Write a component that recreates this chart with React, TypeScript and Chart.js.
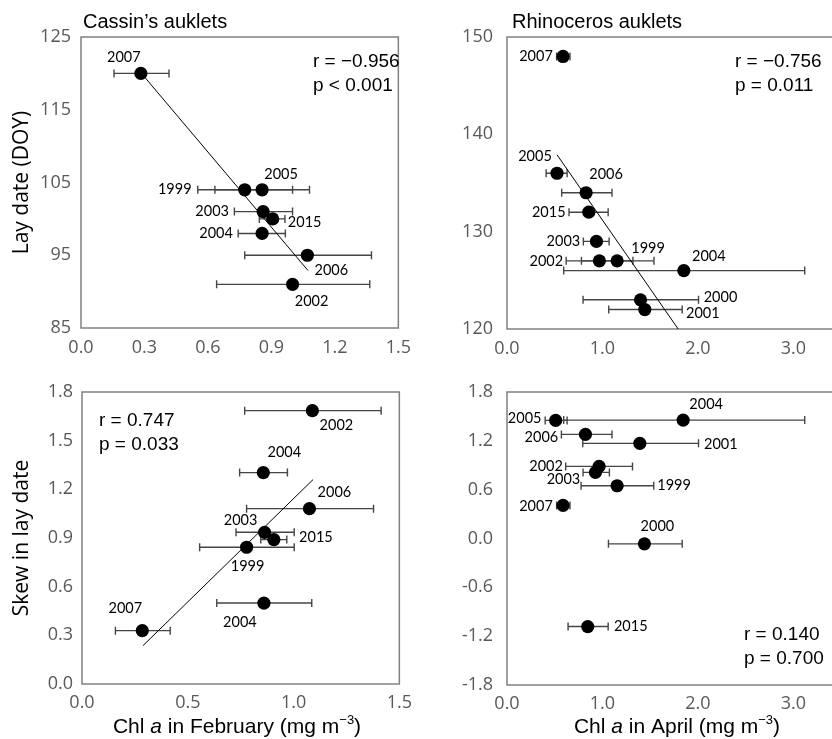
import React, { useEffect, useRef } from 'react';
import { Chart, registerables } from 'chart.js';
Chart.register(...registerables);

// ---------- Panel A: Cassin's auklets, lay date vs Chl a in February ----------
const cassinLayYears = ['2007', '1999', '2005', '2003', '2015', '2004', '2006', '2002'];
const cassinLayChl = [0.283, 0.774, 0.856, 0.861, 0.906, 0.856, 1.07, 1.0];
const cassinLayChlLow = [0.156, 0.552, 0.633, 0.725, 0.843, 0.743, 0.774, 0.641];
const cassinLayChlHigh = [0.416, 1.0, 1.08, 1.0, 0.964, 0.966, 1.373, 1.365];
const cassinLayDate = [120, 104, 104, 101, 100, 98, 95, 91];
const cassinLayTrendX = [0.283, 1.073];
const cassinLayTrendY = [120.1, 92.9];
const cassinLayStats = ['r = \u22120.956', 'p < 0.001'];

// ---------- Panel B: Rhinoceros auklets, lay date vs Chl a in April ----------
const rhinoLayYears = ['2007', '2005', '2006', '2015', '2003', '2002', '1999', '2004', '2000', '2001'];
const rhinoLayChl = [0.587, 0.524, 0.829, 0.857, 0.937, 0.968, 1.154, 1.853, 1.399, 1.444];
const rhinoLayChlLow = [0.52, 0.41, 0.573, 0.65, 0.8, 0.62, 0.78, 0.594, 0.797, 1.066];
const rhinoLayChlHigh = [0.66, 0.63, 1.1, 1.06, 1.07, 1.32, 1.54, 3.12, 2.007, 1.836];
const rhinoLayDate = [148, 136, 134, 132, 129, 127, 127, 126, 123, 122];
const rhinoLayTrendX = [0.524, 1.794];
const rhinoLayTrendY = [137.9, 120];
const rhinoLayStats = ['r = \u22120.756', 'p = 0.011'];

// ---------- Panel C: Cassin's auklets, skew vs Chl a in February ----------
const cassinSkewYears = ['2002', '2004', '2006', '2003', '2015', '1999', '2004', '2007'];
const cassinSkewChl = [1.089, 0.857, 1.075, 0.863, 0.907, 0.778, 0.86, 0.285];
const cassinSkewChlLow = [0.769, 0.745, 0.778, 0.728, 0.845, 0.556, 0.637, 0.158];
const cassinSkewChlHigh = [1.414, 0.971, 1.378, 1.003, 0.968, 1.003, 1.086, 0.417];
const cassinSkew = [1.685, 1.303, 1.081, 0.935, 0.89, 0.843, 0.499, 0.329];
const cassinSkewTrendX = [0.288, 1.092];
const cassinSkewTrendY = [0.236, 1.26];
const cassinSkewStats = ['r = 0.747', 'p = 0.033'];

// ---------- Panel D: Rhinoceros auklets, skew vs Chl a in April ----------
const rhinoSkewYears = ['2005', '2004', '2006', '2001', '2002', '2003', '1999', '2007', '2000', '2015'];
const rhinoSkewChl = [0.51, 1.846, 0.822, 1.392, 0.965, 0.927, 1.154, 0.587, 1.44, 0.846];
const rhinoSkewChlLow = [0.4, 0.594, 0.57, 0.794, 0.615, 0.797, 0.776, 0.52, 1.063, 0.64];
const rhinoSkewChlHigh = [0.63, 3.12, 1.1, 2.007, 1.315, 1.073, 1.538, 0.66, 1.836, 1.06];
const rhinoSkew = [1.451, 1.455, 1.279, 1.169, 0.886, 0.812, 0.648, 0.406, -0.066, -1.082];
const rhinoSkewStats = ['r = 0.140', 'p = 0.700'];

// ---------- Tick / axis settings ----------
const febTicksTop = { min: 0, max: 1.5, step: 0.3 };
const febTicksBottom = { min: 0, max: 1.5, step: 0.5 };
const aprTicks = { min: 0, max: 3.5, step: 1 };
const cassinLayTicks = { min: 85, max: 125, step: 10 };
const rhinoLayTicks = { min: 120, max: 150, step: 10 };
const cassinSkewTicks = { min: 0, max: 1.8, step: 0.3 };
const rhinoSkewTicks = { min: -1.8, max: 1.8, step: 0.6 };

// ---------- Label placement (pixel offsets of label centre from point) ----------
const cassinLayLabelOffsets = [[-17, -16], [-70, 0], [19, -15], [-51, 0], [32, 3], [-46, 0], [24, 15], [19, 17]];
const rhinoLayLabelOffsets = [[-27, 0], [-22, -17], [20, -18], [-40, 0], [-33, 0], [-53, 0], [31, -13], [25, -14], [80, -2], [58, 4]];
const cassinSkewLabelOffsets = [[24, 15], [21, -20], [25, -16], [-24, -12], [42, -2], [1, 19], [-24, 19], [-17, -22]];
const rhinoSkewLabelOffsets = [[-31, -2], [23, -16], [-44, 3], [81, 1], [-53, 0], [-32, 7], [57, 0], [-27, 1], [13, -18], [43, 0]];

const TICK_FONT = { family: "'Open Sans', sans-serif", size: 18 };
const TICK_COLOR = '#595959';

type Piece = { t: string; font: string; dy?: number };

interface PanelDef {
  left: number; top: number; width: number; height: number;
  padding: { left: number; top: number; right: number; bottom: number };
  yAxisW: number; xAxisH: number;
  yTickPad: number; xTickPad: number;
  xTicks: { min: number; max: number; step: number };
  yTicks: { min: number; max: number; step: number };
  yInt: boolean;
  xs: number[]; ys: number[]; lo: number[]; hi: number[];
  years: string[]; offsets: number[][];
  trendX?: number[]; trendY?: number[];
  stats: string[]; statsX: number; statsY: number;
  title?: string; titleX?: number; titleY?: number;
  yTitle?: string;
  xTitle?: Piece[]; xTitleX?: number; xTitleY?: number;
}

function xTitlePieces(month: string): Piece[] {
  const n = "21px 'Liberation Sans', Arial, sans-serif";
  return [
    { t: 'Chl ', font: n },
    { t: 'a', font: "italic 21px 'Liberation Sans', Arial, sans-serif" },
    { t: ' in ' + month + ' (mg m', font: n },
    { t: '\u22123', font: "13px 'Liberation Sans', Arial, sans-serif", dy: -7 },
    { t: ')', font: n },
  ];
}

const decorPlugin = {
  id: 'decor',
  beforeDatasetsDraw(chart: any) {
    const p: PanelDef = chart.options.plugins.decor.def;
    const ctx = chart.ctx;
    const xs = chart.scales.x;
    const ys = chart.scales.y;
    const a = chart.chartArea;
    ctx.save();
    // frame
    ctx.strokeStyle = '#808080';
    ctx.lineWidth = 1.5;
    ctx.strokeRect(a.left, a.top, a.right - a.left, a.bottom - a.top);
    // error bars
    ctx.strokeStyle = '#454545';
    ctx.lineWidth = 1.4;
    for (let i = 0; i < p.xs.length; i++) {
      const x1 = xs.getPixelForValue(p.lo[i]);
      const x2 = xs.getPixelForValue(p.hi[i]);
      const y = ys.getPixelForValue(p.ys[i]);
      ctx.beginPath();
      ctx.moveTo(x1, y); ctx.lineTo(x2, y);
      ctx.moveTo(x1, y - 4); ctx.lineTo(x1, y + 4);
      ctx.moveTo(x2, y - 4); ctx.lineTo(x2, y + 4);
      ctx.stroke();
    }
    ctx.restore();
  },
  afterDatasetsDraw(chart: any) {
    const p: PanelDef = chart.options.plugins.decor.def;
    const ctx = chart.ctx;
    const xs = chart.scales.x;
    const ys = chart.scales.y;
    ctx.save();
    // year labels
    ctx.fillStyle = '#000';
    ctx.font = "14.5px Lato, sans-serif";
    ctx.textAlign = 'center';
    ctx.textBaseline = 'middle';
    for (let i = 0; i < p.xs.length; i++) {
      const x = xs.getPixelForValue(p.xs[i]);
      const y = ys.getPixelForValue(p.ys[i]);
      ctx.fillText(p.years[i], x + p.offsets[i][0], y + p.offsets[i][1]);
    }
    // stats
    ctx.font = "19px 'Liberation Sans', Arial, sans-serif";
    ctx.textAlign = 'left';
    p.stats.forEach((s, k) => ctx.fillText(s, p.statsX, p.statsY + k * 24));
    // title
    if (p.title) {
      ctx.font = "20px 'Liberation Sans', Arial, sans-serif";
      ctx.fillText(p.title, p.titleX!, p.titleY!);
    }
    // x title with italic and superscript
    if (p.xTitle) {
      let total = 0;
      for (const pc of p.xTitle) { ctx.font = pc.font; total += ctx.measureText(pc.t).width; }
      let cx = p.xTitleX! - total / 2;
      ctx.textAlign = 'left';
      for (const pc of p.xTitle) {
        ctx.font = pc.font;
        ctx.fillText(pc.t, cx, p.xTitleY! + (pc.dy || 0));
        cx += ctx.measureText(pc.t).width;
      }
    }
    ctx.restore();
  },
};

function fmt(v: number, asInt: boolean) {
  const n = Math.abs(v) < 1e-9 ? 0 : v;
  return asInt ? String(Math.round(n)) : n.toFixed(1);
}

function buildConfig(p: PanelDef): any {
  const points = p.xs.map((x, i) => ({ x, y: p.ys[i] }));
  const datasets: any[] = [
    {
      data: points,
      pointRadius: 6.6,
      pointHoverRadius: 6.6,
      backgroundColor: '#000',
      borderColor: '#000',
      borderWidth: 0,
      order: 1,
    },
  ];
  if (p.trendX && p.trendY) {
    datasets.push({
      data: p.trendX.map((x, i) => ({ x, y: p.trendY![i] })),
      showLine: true,
      pointRadius: 0,
      borderColor: '#000',
      borderWidth: 1,
      order: 2,
    });
  }
  return {
    type: 'scatter',
    data: { datasets },
    options: {
      responsive: false,
      maintainAspectRatio: false,
      animation: false,
      devicePixelRatio: 1,
      events: [],
      layout: { padding: p.padding },
      plugins: {
        legend: { display: false },
        tooltip: { enabled: false },
        title: { display: false },
        decor: { def: p },
      },
      scales: {
        x: {
          type: 'linear',
          min: p.xTicks.min,
          max: p.xTicks.max,
          grid: { display: false, drawTicks: false },
          border: { display: false },
          ticks: {
            stepSize: p.xTicks.step,
            includeBounds: false,
            font: TICK_FONT,
            color: TICK_COLOR,
            padding: p.xTickPad,
            maxRotation: 0,
            autoSkip: false,
            callback: (v: number) => fmt(v, false),
          },
          afterFit: (s: any) => { s.height = p.xAxisH; },
        },
        y: {
          type: 'linear',
          min: p.yTicks.min,
          max: p.yTicks.max,
          grid: { display: false, drawTicks: false },
          border: { display: false },
          title: p.yTitle
            ? {
                display: true,
                text: p.yTitle,
                color: '#000',
                font: { family: "'Open Sans', sans-serif", size: 21 },
                padding: { top: 9, bottom: 0 },
              }
            : { display: false },
          ticks: {
            stepSize: p.yTicks.step,
            font: TICK_FONT,
            color: TICK_COLOR,
            padding: p.yTickPad,
            autoSkip: false,
            callback: (v: number) => fmt(v, p.yInt),
          },
          afterFit: (s: any) => { s.width = p.yAxisW; },
        },
      },
    },
    plugins: [decorPlugin],
  };
}

const panels: PanelDef[] = [
  {
    left: 0, top: 0, width: 420, height: 360,
    padding: { left: 0, top: 37, right: 5, bottom: 0 },
    yAxisW: 81, xAxisH: 32, yTickPad: 10, xTickPad: 9,
    xTicks: febTicksTop, yTicks: cassinLayTicks, yInt: true,
    xs: cassinLayChl, ys: cassinLayDate, lo: cassinLayChlLow, hi: cassinLayChlHigh,
    years: cassinLayYears, offsets: cassinLayLabelOffsets,
    trendX: cassinLayTrendX, trendY: cassinLayTrendY,
    stats: cassinLayStats, statsX: 313, statsY: 62,
    title: 'Cassin\u2019s auklets', titleX: 83, titleY: 22,
    yTitle: 'Lay date (DOY)',
  },
  {
    left: 420, top: 0, width: 440, height: 360,
    padding: { left: 0, top: 37, right: 19, bottom: 0 },
    yAxisW: 87, xAxisH: 31, yTickPad: 14, xTickPad: 9,
    xTicks: aprTicks, yTicks: rhinoLayTicks, yInt: true,
    xs: rhinoLayChl, ys: rhinoLayDate, lo: rhinoLayChlLow, hi: rhinoLayChlHigh,
    years: rhinoLayYears, offsets: rhinoLayLabelOffsets,
    trendX: rhinoLayTrendX, trendY: rhinoLayTrendY,
    stats: rhinoLayStats, statsX: 315, statsY: 62,
    title: 'Rhinoceros auklets', titleX: 92, titleY: 22,
  },
  {
    left: 0, top: 360, width: 420, height: 379,
    padding: { left: 0, top: 32, right: 6, bottom: 25 },
    yAxisW: 82, xAxisH: 30, yTickPad: 9, xTickPad: 8,
    xTicks: febTicksBottom, yTicks: cassinSkewTicks, yInt: false,
    xs: cassinSkewChl, ys: cassinSkew, lo: cassinSkewChlLow, hi: cassinSkewChlHigh,
    years: cassinSkewYears, offsets: cassinSkewLabelOffsets,
    trendX: cassinSkewTrendX, trendY: cassinSkewTrendY,
    stats: cassinSkewStats, statsX: 99, statsY: 61,
    yTitle: 'Skew in lay date',
    xTitle: xTitlePieces('February'), xTitleX: 237, xTitleY: 367,
  },
  {
    left: 420, top: 360, width: 440, height: 379,
    padding: { left: 0, top: 32, right: 19, bottom: 24 },
    yAxisW: 87, xAxisH: 30, yTickPad: 14, xTickPad: 8,
    xTicks: aprTicks, yTicks: rhinoSkewTicks, yInt: false,
    xs: rhinoSkewChl, ys: rhinoSkew, lo: rhinoSkewChlLow, hi: rhinoSkewChlHigh,
    years: rhinoSkewYears, offsets: rhinoSkewLabelOffsets,
    stats: rhinoSkewStats, statsX: 324, statsY: 275,
    xTitle: xTitlePieces('April'), xTitleX: 257, xTitleY: 367,
  },
];

function Panel({ def }: { def: PanelDef }) {
  const ref = useRef<HTMLCanvasElement | null>(null);
  useEffect(() => {
    if (!ref.current) return;
    const chart = new Chart(ref.current, buildConfig(def));
    return () => chart.destroy();
  }, [def]);
  return (
    <canvas
      ref={ref}
      width={def.width}
      height={def.height}
      style={{ position: 'absolute', left: def.left, top: def.top, width: def.width, height: def.height }}
    />
  );
}

export default function App() {
  return (
    <div
      style={{
        position: 'fixed', left: 0, top: 0, width: 832, height: 739,
        overflow: 'hidden', background: '#fff',
      }}
    >
      {panels.map((d, i) => <Panel key={i} def={d} />)}
    </div>
  );
}
